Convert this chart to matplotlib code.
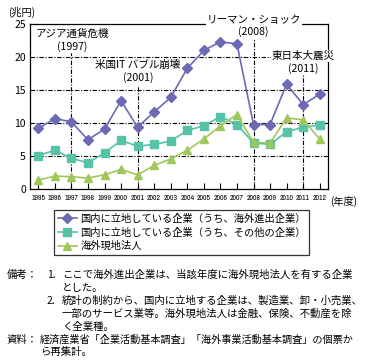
import matplotlib
matplotlib.use("Agg")
import matplotlib.pyplot as plt
from matplotlib import font_manager
from matplotlib.font_manager import FontProperties

plt.rcParams['font.family'] = ['Noto Sans CJK JP', 'DejaVu Sans']

years = list(range(1995, 2013))
year_labels = [str(y) for y in years]
domestic_overseas = [9.2, 10.7, 10.2, 7.5, 9.1, 13.4, 9.4, 11.7, 13.9, 18.3, 21.0, 22.3,
                     22.0, 9.8, 9.8, 15.9, 12.8, 14.4]
domestic_other = [5.1, 5.9, 4.7, 4.0, 5.5, 7.4, 6.5, 6.8, 7.3, 8.9, 9.6, 11.0,
                  9.8, 7.0, 6.8, 8.7, 9.4, 9.7]
overseas_affiliates = [1.4, 2.0, 1.9, 1.7, 2.2, 3.0, 2.2, 3.6, 4.6, 5.9, 7.6, 9.6,
                       11.3, 7.1, 7.0, 10.8, 10.5, 7.6]
series_names = ['国内に立地している企業（うち、海外進出企業）',
                '国内に立地している企業（うち、その他の企業）',
                '海外現地法人']
yticks = [0, 5, 10, 15, 20, 25]
event_years = [1997, 2001, 2008, 2011]
event_tops = [20.6, 15.8, 22.9, 17.3]

# pick a narrow font for the year labels if one is installed
narrow_fp = None
for f in font_manager.fontManager.ttflist:
    if 'Narrow' in f.name and 'Bold' not in f.fname and 'Italic' not in f.fname:
        narrow_fp = FontProperties(fname=f.fname)
        break
if narrow_fp is None:
    for f in font_manager.fontManager.ttflist:
        fn = f.fname.lower()
        if ('condensed' in fn or f.stretch in ('condensed', 'semi-condensed', 'extra-condensed')) \
                and 'bold' not in fn and 'oblique' not in fn and 'italic' not in fn:
            narrow_fp = FontProperties(fname=f.fname)
            break
tick_size = 5.6
if narrow_fp is None:
    narrow_fp = FontProperties(family='DejaVu Sans')
    tick_size = 4.7
narrow_fp.set_size(tick_size)

W, H = 367, 361
fig = plt.figure(figsize=(W / 100, H / 100), dpi=100)

def fx(x):
    return x / W

def fy(y):
    return 1 - y / H

ax = fig.add_axes([fx(30), fy(189.3), fx(328) - fx(30), fy(24) - fy(189.3)])
ax.set_xlim(1994.5, 2012.5)
ax.set_ylim(0, 25)

dash = (0, (4, 1.5, 1, 1.5))
for v in yticks[1:-1]:
    ax.axhline(v, color='black', lw=0.8, ls=dash, zorder=1)
for yr, top in zip(event_years, event_tops):
    ax.plot([yr, yr], [0, top], color='black', lw=0.8, ls=dash, zorder=1)

c1, c2, c3 = '#6d6ab5', '#56c2a6', '#9fc75c'
l1, = ax.plot(years, domestic_overseas, color=c1, lw=1.2, marker='D', ms=5,
              mfc=c1, mec=c1, zorder=4)
l2, = ax.plot(years, domestic_other, color=c2, lw=1.2, marker='s', ms=6,
              mfc=c2, mec=c2, zorder=3)
l3, = ax.plot(years, overseas_affiliates, color=c3, lw=1.2, marker='^', ms=6,
              mfc=c3, mec=c3, zorder=3)

ax.set_yticks(yticks)
ax.set_yticklabels([str(v) for v in yticks], fontsize=7.5)
ax.tick_params(axis='y', length=0, pad=3)
ax.set_xticks(years)
ax.set_xticklabels(year_labels, fontproperties=narrow_fp)
ax.tick_params(axis='x', direction='in', length=4, width=0.8, pad=4)
for s in ax.spines.values():
    s.set_linewidth(0.9)

bbox = dict(facecolor='white', edgecolor='none', pad=0.5)
fig.text(fx(8), fy(12), '(兆円)', fontsize=7.3, va='center', ha='left')
fig.text(fx(36), fy(34), 'アジア通貨危機', fontsize=7.6, va='center', ha='left')
fig.text(fx(72), fy(46.5), '(1997)', fontsize=7.6, va='center', ha='center')
fig.text(fx(95), fy(65), '米国IT バブル崩壊', fontsize=7.6, va='center', ha='left')
fig.text(fx(138), fy(78), '(2001)', fontsize=7.6, va='center', ha='center')
fig.text(fx(207), fy(20), 'リーマン・ショック', fontsize=7.6, va='center', ha='left', bbox=bbox, zorder=10)
fig.text(fx(253), fy(32), '(2008)', fontsize=7.6, va='center', ha='center')
fig.text(fx(272), fy(56), '東日本大震災', fontsize=7.6, va='center', ha='left', bbox=bbox, zorder=10)
fig.text(fx(303), fy(69), '(2011)', fontsize=7.6, va='center', ha='center')
fig.text(fx(330), fy(201), '(年度)', fontsize=7.3, va='center', ha='left')

leg = fig.legend([l1, l2, l3], series_names, loc='upper left',
                 bbox_to_anchor=(fx(54), fy(210)), fontsize=7.4, frameon=True,
                 fancybox=False, handlelength=1.9, handletextpad=0.3,
                 borderpad=0.35, labelspacing=0.35, borderaxespad=0)
leg.get_frame().set_edgecolor('black')
leg.get_frame().set_linewidth(0.9)

notes = [
    (7, 275, '備考：', 7.5), (47, 275, '1.', 7.5),
    (62, 275, 'ここで海外進出企業は、当該年度に海外現地法人を有する企業', 7.5),
    (62, 288, 'とした。', 7.5),
    (47, 301, '2.', 7.5),
    (62, 301, '統計の制約から、国内に立地する企業は、製造業、卸・小売業、', 7.5),
    (62, 314, '一部のサービス業等。海外現地法人は金融、保険、不動産を除', 7.5),
    (62, 327, 'く全業種。', 7.5),
    (7, 340, '資料：', 7.5),
    (40, 340, '経済産業省「企業活動基本調査」「海外事業活動基本調査」の個票か', 7.3),
    (40, 352, 'ら再集計。', 7.5),
]
for x, y, t, s in notes:
    fig.text(fx(x), fy(y), t, fontsize=s, va='center', ha='left')

fig.savefig('out.png', dpi=100)
